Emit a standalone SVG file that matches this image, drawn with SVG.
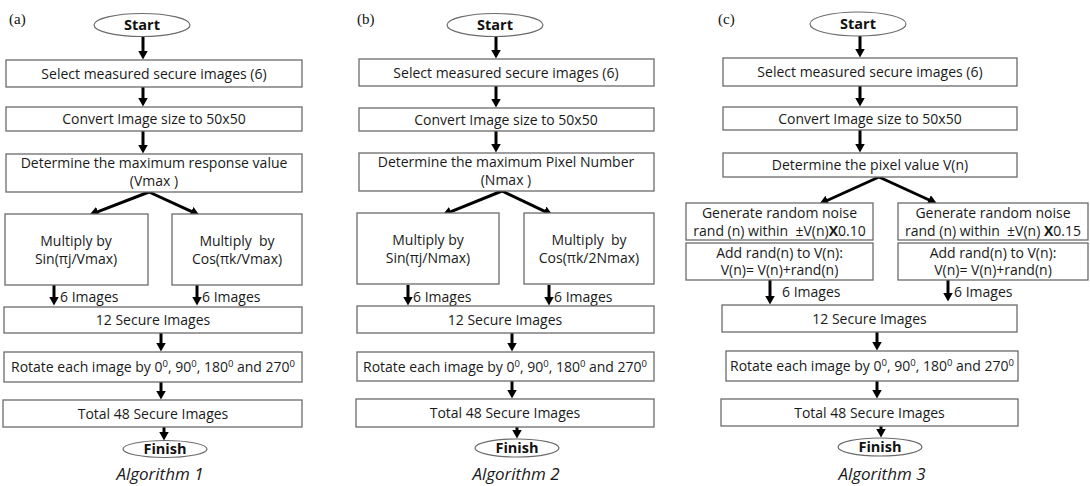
<svg xmlns="http://www.w3.org/2000/svg" width="1090" height="486" viewBox="0 0 1090 486">
<style>
.box{fill:#fff;stroke:#6b6b6b;stroke-width:1.3}
.ell{fill:#fff;stroke:#6b6b6b;stroke-width:1.2}
.t{font-family:"Open Sans","Noto Sans","Liberation Sans",sans-serif;font-size:14px;fill:#1a1a1a;text-anchor:middle}
.tl{font-family:"Open Sans","Noto Sans","Liberation Sans",sans-serif;font-size:14px;fill:#1a1a1a}
.b{font-family:"Open Sans","Noto Sans","Liberation Sans",sans-serif;font-size:14.5px;font-weight:bold;fill:#111;text-anchor:middle}
.cap{font-family:"Open Sans","Noto Sans","Liberation Sans",sans-serif;font-size:17px;font-style:italic;fill:#1a1a1a;text-anchor:middle}
.lab{font-family:"Liberation Serif",serif;font-size:15px;fill:#111}
.c{stroke:#000;stroke-width:3;fill:none;marker-end:url(#ah)}
.sup{font-size:9.5px}
</style>
<defs>
<marker id="ah" viewBox="0 0 9 10" markerWidth="9" markerHeight="10" refX="0.5" refY="5" orient="auto" markerUnits="userSpaceOnUse">
<path d="M0,0 L9,5 L0,10 z" fill="#000"/>
</marker>
</defs>

<!-- panel labels & captions -->
<text class="lab" x="9" y="24">(a)</text>
<text class="lab" x="357" y="24">(b)</text>
<text class="lab" x="718" y="24">(c)</text>
<text class="cap" x="160" y="480">Algorithm 1</text>
<text class="cap" x="516" y="480">Algorithm 2</text>
<text class="cap" x="882" y="480">Algorithm 3</text>

<g id="connectors">
<!-- (a) -->
<line class="c" x1="143" y1="37" x2="143" y2="51"/>
<line class="c" x1="143" y1="87" x2="143" y2="98"/>
<line class="c" x1="143" y1="131" x2="143" y2="145"/>
<line class="c" x1="149" y1="192" x2="97.4" y2="211.8"/>
<line class="c" x1="149" y1="192" x2="191.8" y2="211.7"/>
<line class="c" x1="54" y1="285" x2="54" y2="297"/>
<line class="c" x1="197" y1="285" x2="197" y2="297"/>
<line class="c" x1="161" y1="333" x2="161" y2="343"/>
<line class="c" x1="161" y1="382" x2="161" y2="391"/>
<line class="c" x1="164" y1="427" x2="164" y2="432"/>
<!-- (b) -->
<line class="c" x1="496" y1="37" x2="496" y2="50"/>
<line class="c" x1="496" y1="86" x2="496" y2="99"/>
<line class="c" x1="496" y1="131" x2="496" y2="144"/>
<line class="c" x1="502" y1="191" x2="450.4" y2="211.8"/>
<line class="c" x1="502" y1="191" x2="544.8" y2="211.3"/>
<line class="c" x1="408" y1="285" x2="408" y2="297"/>
<line class="c" x1="549" y1="285" x2="549" y2="297"/>
<line class="c" x1="512" y1="333" x2="512" y2="343"/>
<line class="c" x1="512" y1="381" x2="512" y2="390"/>
<line class="c" x1="517" y1="427" x2="517" y2="430"/>
<!-- (c) -->
<line class="c" x1="860" y1="36" x2="860" y2="49"/>
<line class="c" x1="860" y1="86" x2="860" y2="98"/>
<line class="c" x1="860" y1="130" x2="860" y2="144"/>
<line class="c" x1="879" y1="177" x2="827.1" y2="200.5"/>
<line class="c" x1="879" y1="177" x2="929.2" y2="200"/>
<line class="c" x1="770" y1="280" x2="770" y2="296"/>
<line class="c" x1="948" y1="280" x2="948" y2="293"/>
<line class="c" x1="877" y1="332" x2="877" y2="342"/>
<line class="c" x1="877" y1="381" x2="877" y2="390"/>
<line class="c" x1="881" y1="426" x2="881" y2="429"/>
</g>

<!-- ===== (a) ===== -->
<g id="a-start"><ellipse class="ell" cx="142" cy="25" rx="48" ry="11.5"/><text class="b" x="142" y="30">Start</text></g>
<g id="a-select"><rect class="box" x="6" y="60" width="296" height="27"/><text class="t" x="154" y="78.5">Select measured secure images (6)</text></g>
<g id="a-convert"><rect class="box" x="6" y="107" width="296" height="24"/><text class="t" x="154" y="124">Convert Image size to 50x50</text></g>
<g id="a-determine"><rect class="box" x="6" y="154" width="296" height="38"/><text class="t" x="154" y="168">Determine the maximum response value</text><text class="t" x="154" y="186">(Vmax )</text></g>
<g id="a-sin"><rect class="box" x="5" y="214" width="143" height="71"/><text class="t" x="76" y="246">Multiply by</text><text class="t" x="76" y="264">Sin(πj/Vmax)</text></g>
<g id="a-cos"><rect class="box" x="172" y="214" width="130" height="71"/><text class="t" x="237" y="246" xml:space="preserve">Multiply  by</text><text class="t" x="237" y="264">Cos(πk/Vmax)</text></g>
<g id="a-6l"><text class="tl" x="60" y="302">6 Images</text></g>
<g id="a-6r"><text class="tl" x="202" y="302">6 Images</text></g>
<g id="a-12"><rect class="box" x="4" y="307" width="298" height="26"/><text class="t" x="153" y="325">12 Secure Images</text></g>
<g id="a-rotate"><rect class="box" x="4" y="352" width="298" height="30"/><text class="t" x="153" y="372">Rotate each image by 0<tspan class="sup" dy="-5">0</tspan><tspan dy="5">, 90</tspan><tspan class="sup" dy="-5">0</tspan><tspan dy="5">, 180</tspan><tspan class="sup" dy="-5">0</tspan><tspan dy="5"> and 270</tspan><tspan class="sup" dy="-5">0</tspan></text></g>
<g id="a-total"><rect class="box" x="3" y="400" width="299" height="27"/><text class="t" x="153" y="418.5">Total 48 Secure Images</text></g>
<g id="a-finish"><ellipse class="ell" cx="165" cy="449" rx="42" ry="8.5"/><text class="b" x="165" y="454">Finish</text></g>

<!-- ===== (b) ===== -->
<g id="b-start"><ellipse class="ell" cx="495" cy="25" rx="48" ry="11.5"/><text class="b" x="495" y="30">Start</text></g>
<g id="b-select"><rect class="box" x="359" y="59" width="295" height="27"/><text class="t" x="506" y="77.5">Select measured secure images (6)</text></g>
<g id="b-convert"><rect class="box" x="359" y="108" width="295" height="23"/><text class="t" x="506" y="124.5">Convert Image size to 50x50</text></g>
<g id="b-determine"><rect class="box" x="359" y="153" width="295" height="38"/><text class="t" x="506" y="167">Determine the maximum Pixel Number</text><text class="t" x="506" y="185">(Nmax )</text></g>
<g id="b-sin"><rect class="box" x="357" y="213" width="142" height="71"/><text class="t" x="428" y="245">Multiply by</text><text class="t" x="428" y="263">Sin(πj/Nmax)</text></g>
<g id="b-cos"><rect class="box" x="524" y="213" width="130" height="71"/><text class="t" x="589" y="245" xml:space="preserve">Multiply  by</text><text class="t" x="589" y="263">Cos(πk/2Nmax)</text></g>
<g id="b-6l"><text class="tl" x="413" y="302">6 Images</text></g>
<g id="b-6r"><text class="tl" x="554" y="302">6 Images</text></g>
<g id="b-12"><rect class="box" x="357" y="306" width="297" height="27"/><text class="t" x="505" y="324.5">12 Secure Images</text></g>
<g id="b-rotate"><rect class="box" x="357" y="352" width="297" height="29"/><text class="t" x="505" y="371.5">Rotate each image by 0<tspan class="sup" dy="-5">0</tspan><tspan dy="5">, 90</tspan><tspan class="sup" dy="-5">0</tspan><tspan dy="5">, 180</tspan><tspan class="sup" dy="-5">0</tspan><tspan dy="5"> and 270</tspan><tspan class="sup" dy="-5">0</tspan></text></g>
<g id="b-total"><rect class="box" x="356" y="399" width="298" height="28"/><text class="t" x="505" y="418">Total 48 Secure Images</text></g>
<g id="b-finish"><ellipse class="ell" cx="517" cy="448" rx="42" ry="9"/><text class="b" x="517" y="453">Finish</text></g>

<!-- ===== (c) ===== -->
<g id="c-start"><ellipse class="ell" cx="858" cy="24" rx="48" ry="12"/><text class="b" x="858" y="29">Start</text></g>
<g id="c-select"><rect class="box" x="723" y="58" width="294" height="28"/><text class="t" x="870" y="77">Select measured secure images (6)</text></g>
<g id="c-convert"><rect class="box" x="723" y="107" width="294" height="23"/><text class="t" x="870" y="123.5">Convert Image size to 50x50</text></g>
<g id="c-determine"><rect class="box" x="723" y="153" width="294" height="24"/><text class="t" x="870" y="170">Determine the pixel value V(n)</text></g>
<g id="c-noise10"><rect class="box" x="686" y="203" width="187" height="37"/><text class="t" x="779.5" y="218">Generate random noise</text><text class="t" x="779.5" y="235.5" xml:space="preserve">rand (n) within  ±V(n)<tspan font-weight="bold">X</tspan>0.10</text></g>
<g id="c-add10"><rect class="box" x="686" y="243" width="187" height="37"/><text class="t" x="779.5" y="258">Add rand(n) to V(n):</text><text class="t" x="779.5" y="275">V(n)= V(n)+rand(n)</text></g>
<g id="c-noise15"><rect class="box" x="898" y="203" width="190" height="37"/><text class="t" x="993" y="218">Generate random noise</text><text class="t" x="993" y="235.5" xml:space="preserve">rand (n) within  ±V(n) <tspan font-weight="bold">X</tspan>0.15</text></g>
<g id="c-add15"><rect class="box" x="898" y="243" width="190" height="37"/><text class="t" x="993" y="258">Add rand(n) to V(n):</text><text class="t" x="993" y="275">V(n)= V(n)+rand(n)</text></g>
<g id="c-6l"><text class="tl" x="782" y="297">6 Images</text></g>
<g id="c-6r"><text class="tl" x="954" y="297">6 Images</text></g>
<g id="c-12"><rect class="box" x="722" y="305" width="295" height="27"/><text class="t" x="869.5" y="323.5">12 Secure Images</text></g>
<g id="c-rotate"><rect class="box" x="726" y="351" width="292" height="30"/><text class="t" x="872" y="371">Rotate each image by 0<tspan class="sup" dy="-5">0</tspan><tspan dy="5">, 90</tspan><tspan class="sup" dy="-5">0</tspan><tspan dy="5">, 180</tspan><tspan class="sup" dy="-5">0</tspan><tspan dy="5"> and 270</tspan><tspan class="sup" dy="-5">0</tspan></text></g>
<g id="c-total"><rect class="box" x="721" y="399" width="297" height="27"/><text class="t" x="869.5" y="417.5">Total 48 Secure Images</text></g>
<g id="c-finish"><ellipse class="ell" cx="880" cy="447" rx="42" ry="9"/><text class="b" x="880" y="452">Finish</text></g>
</svg>
